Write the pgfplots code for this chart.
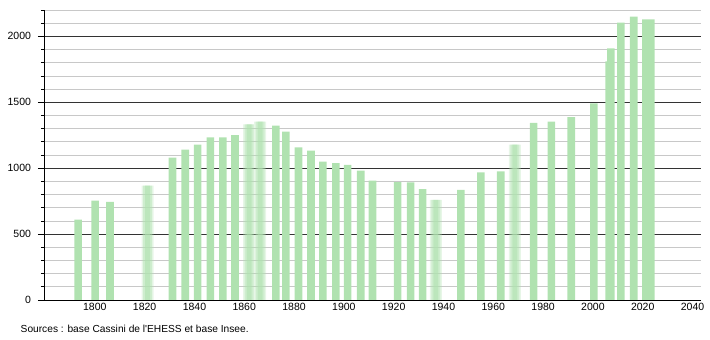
\documentclass[border=0pt]{standalone}
\usepackage{pgfplots}
\pgfplotsset{compat=1.18}
\usepackage{fontspec}
\setmainfont{Liberation Sans}[Ligatures=TeXOff]
\definecolor{barg}{RGB}{176,226,176}
\definecolor{minorg}{RGB}{200,200,200}
\definecolor{majorg}{RGB}{51,51,51}
\pgfplotstableread{
year pop
1793.3 610
1800.1 753
1806.1 745
1831.2 1080
1836.3 1141
1841.3 1179
1846.4 1234
1851.4 1234
1856.3 1250
1872.7 1323
1876.7 1278
1881.8 1158
1886.8 1133
1891.6 1049
1896.8 1039
1901.5 1026
1906.8 981
1911.5 905
1921.6 895
1926.8 893
1931.6 842
1947.0 836
1955.0 968
1963.0 976
1976.2 1344
1983.3 1354
1991.3 1387
2000.4 1491
2006.5 1810
2007.2 1909
2011.2 2104
2016.4 2150
2021.3 2129
2023.3 2129
}\popdata
\pgfplotstableread{
year pop
1821.2 867
1862.0 1333
1866.4 1354
1936.9 760
1968.7 1179
}\blurdata
\begin{document}
\begin{tikzpicture}[x=1pt,y=1pt]
\useasboundingbox (0,0) rectangle (710,340);
\begin{axis}[
  at={(44pt,40pt)}, anchor=south west,
  width=657pt, height=290pt, scale only axis,
  xmin=1779.6, xmax=2043.4, ymin=0, ymax=2200,
  axis x line*=bottom, axis y line*=left,
  axis line style={black, line width=0.9pt},
  xtick={1800,1820,...,2040},
  xtick style={draw=none},
  ytick={0,500,1000,1500,2000},
  minor ytick={100,200,300,400,600,700,800,900,1100,1200,1300,1400,1600,1700,1800,1900,2100,2200},
  ymajorgrids, yminorgrids,
  major grid style={majorg, line width=0.8pt},
  minor grid style={minorg, line width=0.8pt},
  ytick align=outside,
  major tick length=6pt, minor tick length=3pt,
  ytick style={black, line width=0.8pt},
  tick label style={font=\fontsize{10.5}{12}\selectfont},
  /pgf/number format/assume math mode=true,
  /pgf/number format/set thousands separator={},
  yticklabel style={xshift=-3.5pt},
  clip=false,
]
\addplot[ybar, bar width=7.6pt, fill=barg, draw=none] table[x=year, y=pop] {\popdata};
\addplot[ybar, bar width=12pt, fill=barg, fill opacity=0.3, draw=none] table[x=year, y=pop] {\blurdata};
\addplot[ybar, bar width=9pt, fill=barg, fill opacity=0.45, draw=none] table[x=year, y=pop] {\blurdata};
\addplot[ybar, bar width=5pt, fill=barg, fill opacity=0.6, draw=none] table[x=year, y=pop] {\blurdata};
\end{axis}
\node[anchor=base west, font=\fontsize{10.2}{12}\selectfont, inner sep=0pt] at (20.5,7) {Sources : base Cassini de l'EHESS et base Insee.};
\end{tikzpicture}
\end{document}
